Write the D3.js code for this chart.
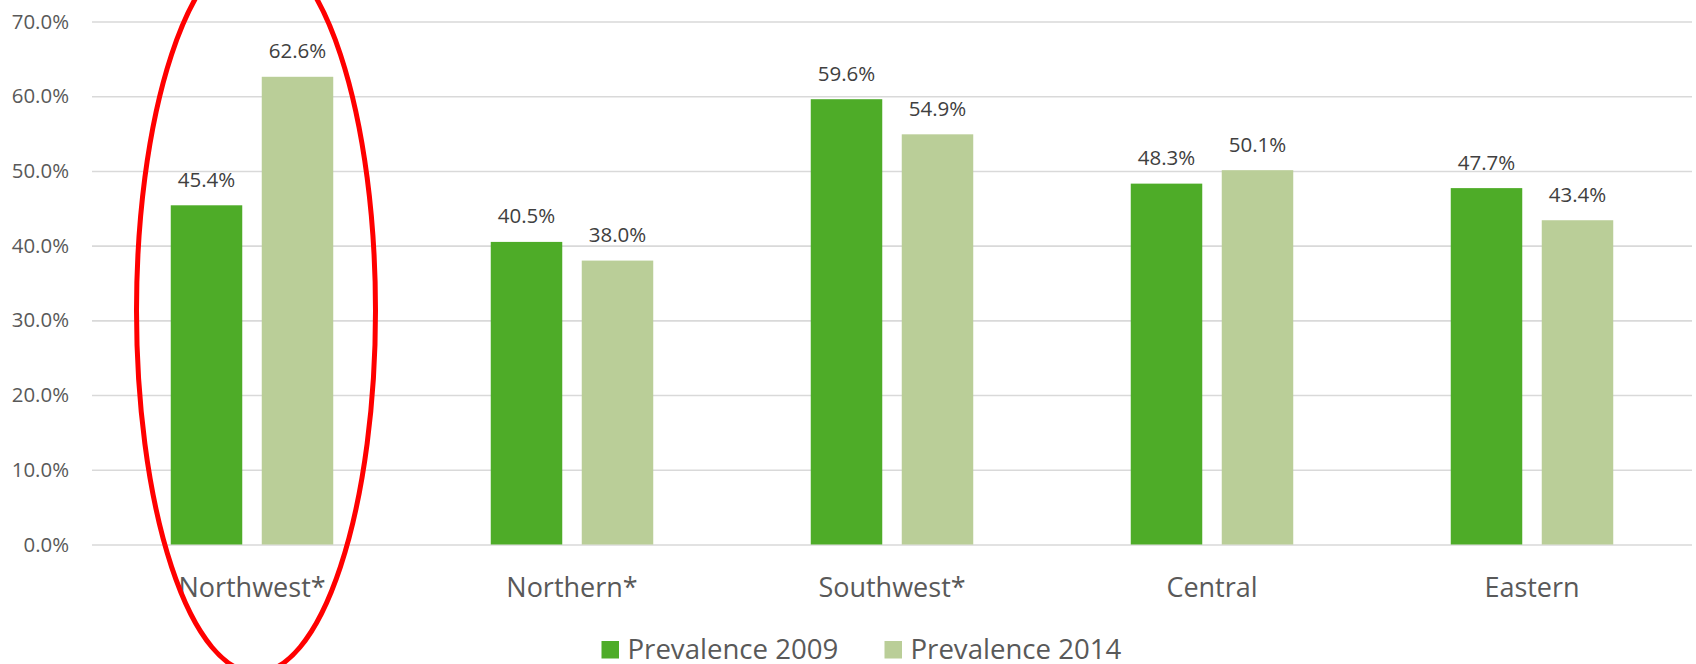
<!DOCTYPE html>
<html>
<head>
<meta charset="utf-8">
<script src="https://cdn.jsdelivr.net/npm/d3@7"></script>
<style>
  html, body { margin: 0; padding: 0; background: #ffffff; }
  svg { display: block; }
  text { font-family: "Open Sans", "Noto Sans", sans-serif; }
</style>
</head>
<body>
<svg id="chart" width="1696" height="664"></svg>
<script>
// Prevalence by region, 2009 vs 2014
const categories = ["Northwest*", "Northern*", "Southwest*", "Central", "Eastern"];
const seriesNames = ["Prevalence 2009", "Prevalence 2014"];
const prevalence2009 = [45.4, 40.5, 59.6, 48.3, 47.7];
const prevalence2014 = [62.6, 38.0, 54.9, 50.1, 43.4];
const yTicks = [0, 10, 20, 30, 40, 50, 60, 70];
const highlighted = "Northwest*";

const colors = ["#4EAC28", "#BACE98"];
const seriesValues = [prevalence2009, prevalence2014];

const svg = d3.select("#chart");
const plot = { left: 92, right: 1692, top: 21.5, bottom: 544.5 };

const y = d3.scaleLinear().domain([0, 70]).range([plot.bottom, plot.top]);
const x0 = d3.scaleBand().domain(categories)
  .range([plot.left, plot.right])
  .paddingInner(0.4922).paddingOuter(0.2461);
const x1 = d3.scaleBand().domain(seriesNames)
  .range([0, x0.bandwidth()])
  .paddingInner(0.2143);
const color = d3.scaleOrdinal().domain(seriesNames).range(colors);
const fmt = v => d3.format(".1f")(v) + "%";

// Horizontal gridlines with tick labels on the left
const yAxis = d3.axisLeft(y).tickValues(yTicks).tickSize(-(plot.right - plot.left))
  .tickPadding(23).tickFormat(fmt);
const gy = svg.append("g").attr("transform", `translate(${plot.left},0)`).call(yAxis);
gy.select(".domain").remove();
gy.selectAll(".tick line").attr("stroke", "#d9d9d9").attr("stroke-width", 1.6);
gy.selectAll(".tick text")
  .attr("fill", "#595959").attr("font-size", 20.4)
  .attr("font-family", "'Open Sans', sans-serif");

// Bars
const rows = categories.map((c, i) => ({
  category: c,
  values: seriesNames.map((s, j) => ({ series: s, value: seriesValues[j][i] }))
}));

const groups = svg.append("g").selectAll("g").data(rows).join("g")
  .attr("transform", d => `translate(${x0(d.category)},0)`);

groups.selectAll("rect").data(d => d.values).join("rect")
  .attr("x", d => x1(d.series))
  .attr("y", d => y(d.value))
  .attr("width", x1.bandwidth())
  .attr("height", d => y(0) - y(d.value))
  .attr("fill", d => color(d.series));

// Value labels above bars
groups.selectAll("text.value").data(d => d.values).join("text")
  .attr("class", "value")
  .attr("x", d => x1(d.series) + x1.bandwidth() / 2)
  .attr("y", d => y(d.value) - 18.5)
  .attr("text-anchor", "middle")
  .attr("font-size", 20.5)
  .attr("fill", "#404040")
  .text(d => fmt(d.value));

// Category labels
const xAxis = d3.axisBottom(x0).tickSize(0).tickPadding(0);
const gx = svg.append("g").attr("transform", `translate(0,${plot.bottom})`).call(xAxis);
gx.select(".domain").remove();
gx.selectAll(".tick text")
  .attr("dy", null)
  .attr("y", 52)
  .attr("fill", "#595959")
  .attr("font-size", 27)
  .attr("font-family", "'Open Sans', sans-serif");

// Legend
const legendItems = [{ name: seriesNames[0], x: 601.5 }, { name: seriesNames[1], x: 884.5 }];
const legend = svg.append("g").selectAll("g").data(legendItems).join("g")
  .attr("transform", d => `translate(${d.x},641)`);
legend.append("rect").attr("width", 17.5).attr("height", 17.5)
  .attr("fill", d => color(d.name));
legend.append("text").attr("x", 26).attr("y", 17.5)
  .attr("font-size", 27.6).attr("fill", "#595959")
  .text(d => d.name);

// Red ellipse around the highlighted region
svg.append("ellipse")
  .attr("cx", x0(highlighted) + x0.bandwidth() / 2 + 4)
  .attr("cy", y(31.3))
  .attr("rx", 119.5)
  .attr("ry", 362)
  .attr("fill", "none")
  .attr("stroke", "#FF0000")
  .attr("stroke-width", 5);
</script>
</body>
</html>
